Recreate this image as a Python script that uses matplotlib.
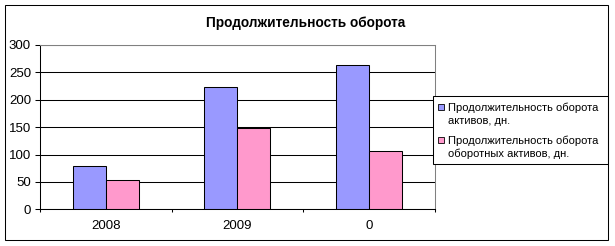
import matplotlib
matplotlib.use("Agg")
import matplotlib.pyplot as plt
from matplotlib.patches import Rectangle

plt.rcParams['font.family'] = ['Liberation Sans', 'DejaVu Sans']

# data
categories = ["2008", "2009", "0"]
assets_days = [79, 224, 264]
current_assets_days = [54, 149, 107]
series_names = ["Продолжительность оборота\nактивов, дн.",
                "Продолжительность оборота\nоборотных активов, дн."]
series_colors = ["#9999FF", "#FF99CC"]
title = "Продолжительность оборота"
y_ticks = [0, 50, 100, 150, 200, 250, 300]

W, H = 615, 246
fig = plt.figure(figsize=(W / 100, H / 100), dpi=100)

def fx(px):
    return px / W

def fy(py):
    return 1 - py / H

# plot area in pixels of the reference
left, right, top, bottom = 40, 434.5, 45, 209.3
ax = fig.add_axes([fx(left), fy(bottom), fx(right - left), (bottom - top) / H])

x = range(len(categories))
bw = 0.25
for i, (vals, col) in enumerate(zip([assets_days, current_assets_days], series_colors)):
    pos = [xi + (i - 0.5) * bw for xi in x]
    ax.bar(pos, vals, width=bw, color=col, edgecolor="black", linewidth=0.75, zorder=3)

ax.set_xlim(-0.5, len(categories) - 0.5)
ax.set_ylim(0, 300)
ax.set_yticks(y_ticks)
ax.set_yticklabels([str(v) for v in y_ticks], fontsize=9.5)
ax.tick_params(axis="y", length=3.6, width=0.75, pad=2.9, direction="out")

# tick marks between categories, labels in the middle
ax.set_xticks([i - 0.5 for i in range(len(categories) + 1)])
ax.set_xticklabels([])
ax.set_xticks(list(x), minor=True)
ax.set_xticklabels(categories, minor=True, fontsize=9.5)
ax.tick_params(axis="x", which="major", length=2.4, width=0.75, direction="out")
ax.tick_params(axis="x", which="minor", length=0, pad=8)

ax.yaxis.grid(True, color="black", linewidth=0.75, zorder=0)
ax.set_axisbelow(True)
for s in ["left", "bottom"]:
    ax.spines[s].set_color("black")
    ax.spines[s].set_linewidth(0.75)
for s in ["top", "right"]:
    ax.spines[s].set_color("#808080")
    ax.spines[s].set_linewidth(0.75)
ax.spines["bottom"].set_zorder(4)

fig.text(fx(306), fy(23), title, fontsize=9.85, fontweight="bold",
         ha="center", va="center")

# legend box, drawn by hand to get Excel's layout
fig.add_artist(Rectangle((fx(433.3), fy(164.3)), fx(607.7 - 433.3), (164.3 - 96) / H,
                         transform=fig.transFigure, facecolor="white",
                         edgecolor="black", linewidth=0.75, zorder=5))
first_baselines = [111, 143.5]
line_step = 13.5
for name, col, b in zip(series_names, series_colors, first_baselines):
    fig.add_artist(Rectangle((fx(437.5), fy(b - 1)), fx(6), 6 / H,
                             transform=fig.transFigure, facecolor=col,
                             edgecolor="black", linewidth=0.6, zorder=6))
    for k, line in enumerate(name.split("\n")):
        fig.text(fx(448), fy(b + k * line_step), line, fontsize=8,
                 ha="left", va="baseline", zorder=6)

# outer chart border
fig.add_artist(Rectangle((fx(5), fy(240)), fx(608 - 5), (240 - 5) / H,
                         transform=fig.transFigure, facecolor="none",
                         edgecolor="black", linewidth=0.75, zorder=7))

fig.savefig("out.png", dpi=100)
